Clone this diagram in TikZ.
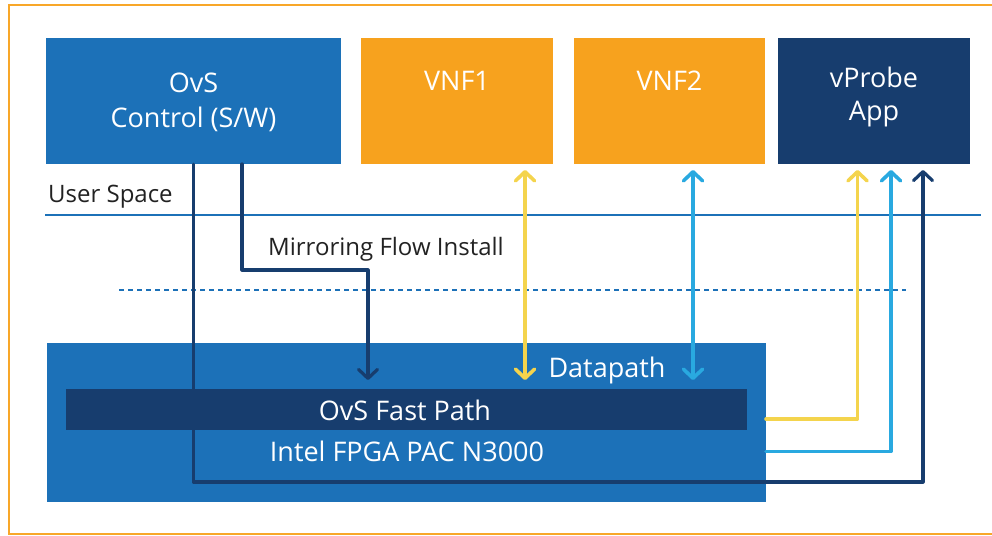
\documentclass[tikz,border=0pt]{standalone}
\usepackage{fontspec}
\setmainfont{Open Sans}
\usetikzlibrary{arrows.meta}
\definecolor{ibl}{HTML}{1C71B8}
\definecolor{ior}{HTML}{F7A21E}
\definecolor{inavy}{HTML}{173D6E}
\definecolor{iyel}{HTML}{F4D44D}
\definecolor{icyan}{HTML}{29A9E0}
\definecolor{iframe}{HTML}{F8A729}
\definecolor{itext}{HTML}{222222}
\begin{document}
\begin{tikzpicture}[x=1pt,y=-1pt,
  blk/.style={draw=none, inner sep=0pt, minimum width=#1},
  wtxt/.style={inner sep=0pt, anchor=base, text=white, font=\fontsize{27}{32}\selectfont},
  lbl/.style={inner sep=0pt, anchor=base west, text=itext, font=\fontsize{24}{29}\selectfont},
  con/.style={line width=3.6pt, line cap=round, line join=round},
  chev/.tip={Straight Barb[length=9pt,width=19pt,round]}
]
\useasboundingbox (0,0) rectangle (992,535);
% outer frame
\draw[iframe, line width=2pt] (995,5) -- (9,5) -- (9,534) -- (995,534);

% top boxes
\node[blk=295pt, minimum height=126pt, fill=ibl] (ovs) at (193.5,101) {};
\node[wtxt] (ovs1) at (193.5,92) {OvS};
\node[wtxt] (ovs2) at (193.5,127) {Control (S/W)};
\node[blk=192pt, minimum height=126pt, fill=ior] (vnf1) at (457,101) {};
\node[wtxt] (vnf1t) at (457,90) {VNF1};
\node[blk=191pt, minimum height=126pt, fill=ior] (vnf2) at (669.5,101) {};
\node[wtxt] (vnf2t) at (669.5,90) {VNF2};
\node[blk=192pt, minimum height=126pt, fill=inavy] (vp) at (874,101) {};
\node[wtxt] (vp1) at (874,87) {vProbe};
\node[wtxt] (vp2) at (874,120) {App};

% user space line and label
\node[lbl] (us) at (48,202) {User Space};
\coordinate (usl) at (45,215);
\coordinate (usr) at (981,215);
\draw[ibl, line width=2.5pt] (usl) -- (usr);
\coordinate (dl) at (119,290);
\coordinate (dr) at (906,290);
\draw[ibl, line width=2.8pt, dash pattern=on 5pt off 4pt] (dl) -- (dr);
\node[lbl] (mfi) at (268,255) {Mirroring Flow Install};

% datapath box
\node[blk=719pt, minimum height=159pt, fill=ibl] (dp) at (406.5,422.5) {};
\node[blk=681pt, minimum height=41pt, fill=inavy] (fp) at (406.5,409.5) {};
\node[wtxt] (fpt) at (405,420) {OvS Fast Path};
\node[wtxt] (fpga) at (407,461) {Intel FPGA PAC N3000};
\node[wtxt] (dpt) at (607,377) {Datapath};

% coordinates
\coordinate (m0) at (242,164);
\coordinate (m1) at (368,270);
\coordinate (m2) at (368,380);
\coordinate (k1) at (923,482);
\coordinate (k2) at (923,170);
\coordinate (y1t) at (525,170);
\coordinate (y1b) at (525,380);
\coordinate (b1t) at (693,170);
\coordinate (b1b) at (693,380);
\coordinate (y2s) at (766,419);
\coordinate (y2t) at (857.5,170);
\coordinate (b2s) at (766,451.5);
\coordinate (b2t) at (891,170);

% connectors
\draw[con, line width=3.2pt, inavy, -{chev}] (m0) |- (m1) -- (m2);
\draw[con, line width=3.2pt, inavy, -{chev}] (ovs.south) |- (k1) -- (k2);
\draw[con, iyel, {chev}-{chev}] (y1t) -- (y1b);
\draw[con, icyan, {chev}-{chev}] (b1t) -- (b1b);
\draw[con, iyel, -{chev}] (y2s) -| (y2t);
\draw[con, icyan, -{chev}] (b2s) -| (b2t);
\end{tikzpicture}
\end{document}
